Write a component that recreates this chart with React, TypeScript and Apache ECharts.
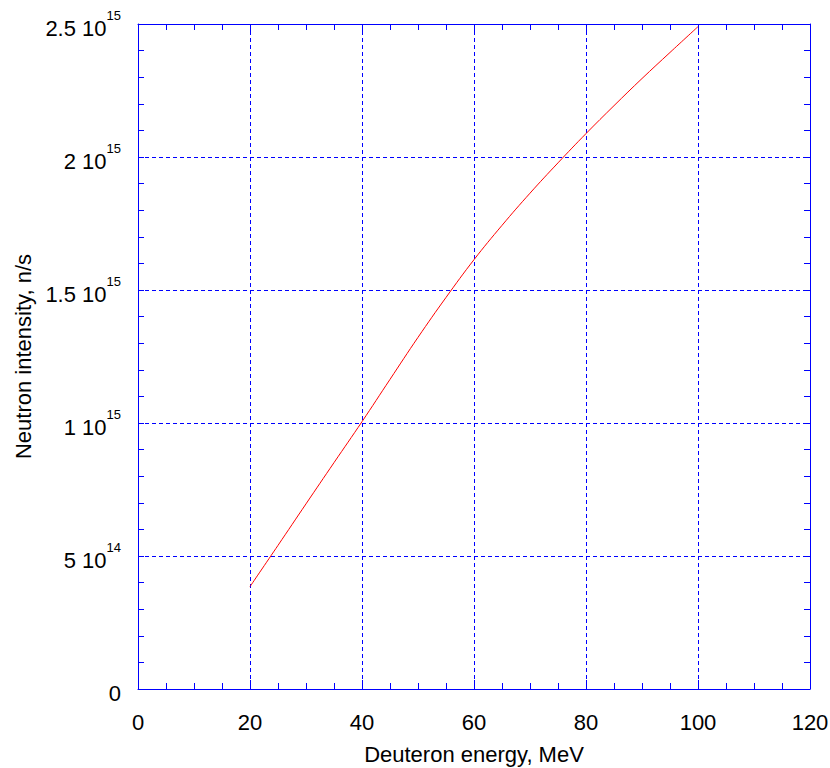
import React, { useEffect, useRef } from "react";
import * as echarts from "echarts";

const energies = [20, 25, 30, 35, 40, 45, 50, 55, 60, 65, 70, 75, 80, 85, 90, 95, 100];
const intensities = [
  0.385e15, 0.54e15, 0.696e15, 0.851e15, 1.005e15, 1.164e15, 1.322e15, 1.472e15, 1.614e15,
  1.743e15, 1.864e15, 1.978e15, 2.088e15, 2.193e15, 2.295e15, 2.393e15, 2.49e15,
];
const yTickValues = [0, 5e14, 1e15, 1.5e15, 2e15, 2.5e15];
const yTickMantissas = ["0", "5 10", "1 10", "1.5 10", "2 10", "2.5 10"];
const yTickExponents = ["", "14", "15", "15", "15", "15"];
const xTickLabels = ["0", "20", "40", "60", "80", "100", "120"];

const FONT = "'Liberation Sans', Arial, Helvetica, sans-serif";
const BLUE = "#0000ff";

export default function App() {
  const ref = useRef<HTMLDivElement>(null);
  useEffect(() => {
    if (!ref.current) return;
    const chart = echarts.init(ref.current, null, { renderer: "svg" });
    const yFormatter = (v: number) => {
      const i = yTickValues.findIndex((t) => Math.abs(t - v) < 1e9);
      if (i < 0) return "";
      if (!yTickExponents[i]) return `{m|${yTickMantissas[i]}}`;
      return `{m|${yTickMantissas[i]}}{e|${yTickExponents[i]}}`;
    };
    const xFormatter = (v: number) => {
      const i = Math.round(v / 20);
      return xTickLabels[i] ?? "";
    };
    const axisLine = { show: true, onZero: false, lineStyle: { color: BLUE, width: 1 } };
    const xMajorTick = { show: true, inside: true, length: 9, lineStyle: { color: BLUE, width: 1 } };
    const yMajorTick = { show: true, inside: true, length: 6, lineStyle: { color: BLUE, width: 1 } };
    const xMinor = { show: true, splitNumber: 4, length: 6, lineStyle: { color: BLUE, width: 1 } };
    const yMinor = { show: true, splitNumber: 5, length: 6, lineStyle: { color: BLUE, width: 1 } };
    const gridLine = { show: true, lineStyle: { color: BLUE, width: 1, type: [4, 3] } };
    chart.setOption({
      animation: false,
      backgroundColor: "#ffffff",
      grid: {
        left: 138,
        top: 24,
        width: 672,
        height: 665,
        containLabel: false,
        outerBoundsMode: "none",
      },
      xAxis: [
        {
          type: "value",
          min: 0,
          max: 120,
          interval: 20,
          position: "bottom",
          name: "Deuteron energy, MeV",
          nameLocation: "middle",
          nameGap: 54,
          nameTextStyle: { fontFamily: FONT, fontSize: 22, color: "#000" },
          axisLine,
          axisTick: xMajorTick,
          minorTick: xMinor,
          axisLabel: { formatter: xFormatter, margin: 22, fontFamily: FONT, fontSize: 22, color: "#000" },
          splitLine: gridLine,
        },
        {
          type: "value",
          min: 0,
          max: 120,
          interval: 20,
          position: "top",
          axisLine,
          axisTick: xMajorTick,
          minorTick: xMinor,
          axisLabel: { show: false },
          splitLine: { show: false },
        },
      ],
      yAxis: [
        {
          type: "value",
          min: 0,
          max: 2.5e15,
          interval: 5e14,
          position: "left",
          name: "Neutron intensity, n/s",
          nameLocation: "middle",
          nameGap: 102,
          nameRotate: 90,
          nameTextStyle: { fontFamily: FONT, fontSize: 22, color: "#000" },
          axisLine,
          axisTick: yMajorTick,
          minorTick: yMinor,
          axisLabel: {
            formatter: yFormatter,
            margin: 17,
            fontFamily: FONT,
            color: "#000",
            rich: {
              m: { fontFamily: FONT, fontSize: 22, color: "#000", lineHeight: 30, verticalAlign: "bottom" },
              e: { fontFamily: FONT, fontSize: 13, color: "#000", lineHeight: 14, verticalAlign: "top" },
            },
          },
          splitLine: gridLine,
        },
        {
          type: "value",
          min: 0,
          max: 2.5e15,
          interval: 5e14,
          position: "right",
          axisLine,
          axisTick: yMajorTick,
          minorTick: yMinor,
          axisLabel: { show: false },
          splitLine: { show: false },
        },
      ],
      series: [
        {
          type: "line",
          xAxisIndex: 0,
          yAxisIndex: 0,
          data: energies.map((e, i) => [e, intensities[i]]),
          showSymbol: false,
          smooth: 0.4,
          lineStyle: { color: "#ff0000", width: 1 },
          itemStyle: { color: "#ff0000" },
        },
      ],
    });
    return () => chart.dispose();
  }, []);
  return (
    <div
      ref={ref}
      style={{ position: "absolute", left: 0, top: 0, width: 830, height: 768, background: "#fff" }}
    />
  );
}
